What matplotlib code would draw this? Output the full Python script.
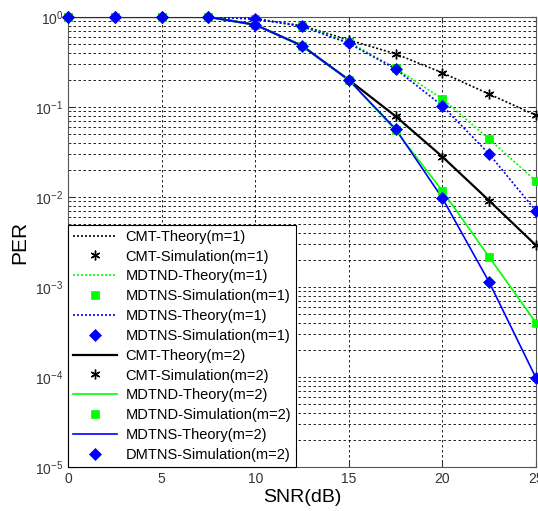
import matplotlib
matplotlib.use("Agg")
import matplotlib.pyplot as plt
from matplotlib.ticker import LogLocator, NullFormatter

plt.rcParams['font.family'] = ['Liberation Sans', 'DejaVu Sans']

# SNR points (dB)
snr = [0, 2.5, 5, 7.5, 10, 12.5, 15, 17.5, 20, 22.5, 25]

# m = 1
cmt_m1 = [1, 1, 1, 1, 0.96, 0.80, 0.555, 0.39, 0.24, 0.139, 0.081]
mdtnd_m1 = [1, 1, 1, 1, 0.95, 0.79, 0.53, 0.27, 0.123, 0.044, 0.015]
mdtns_m1 = [1, 1, 1, 1, 0.95, 0.79, 0.51, 0.265, 0.103, 0.030, 0.0070]

# m = 2
cmt_m2 = [1, 1, 1, 1, 0.82, 0.48, 0.20, 0.079, 0.028, 0.0091, 0.0029]
mdtnd_m2 = [1, 1, 1, 1, 0.82, 0.48, 0.20, 0.055, 0.0117, 0.00215, 0.0004]
mdtns_m2 = [1, 1, 1, 1, 0.82, 0.48, 0.20, 0.057, 0.0097, 0.00113, 0.0000975]

legend_labels = [
    'CMT-Theory(m=1)', 'CMT-Simulation(m=1)',
    'MDTND-Theory(m=1)', 'MDTNS-Simulation(m=1)',
    'MDTNS-Theory(m=1)', 'MDTNS-Simulation(m=1)',
    'CMT-Theory(m=2)', 'CMT-Simulation(m=2)',
    'MDTND-Theory(m=2)', 'MDTND-Simulation(m=2)',
    'MDTNS-Theory(m=2)', 'DMTNS-Simulation(m=2)',
]

green = '#00ff00'
blue = '#0000ff'
dot = (0, (1.2, 1.2))
star = (6, 2, 0)

fig = plt.figure(figsize=(5.38, 5.11), dpi=100)
ax = fig.add_axes([0.1264, 0.0861, 0.8699, 0.8806])

series = [
    (cmt_m1, 'k', dot, star, 7),
    (mdtnd_m1, green, dot, 's', 6),
    (mdtns_m1, blue, dot, 'D', 6),
    (cmt_m2, 'k', '-', star, 7),
    (mdtnd_m2, green, '-', 's', 6),
    (mdtns_m2, blue, '-', 'D', 6),
]

handles = []
for i, (vals, col, ls, mk, ms) in enumerate(series):
    lw = 1.6 if (ls == '-' and col == 'k') else 1.2
    h1, = ax.plot(snr, vals, color=col, linestyle=ls, linewidth=lw,
                  label=legend_labels[2 * i], zorder=3)
    h2, = ax.plot(snr, vals, color=col, linestyle='none', marker=mk,
                  markersize=ms, markeredgewidth=1.0 if mk == star else 0.5,
                  label=legend_labels[2 * i + 1], zorder=4, clip_on=False)
    handles += [h1, h2]

ax.set_yscale('log')
ax.set_xlim(0, 25)
ax.set_ylim(1e-5, 1)
ax.set_xticks([0, 5, 10, 15, 20, 25])
ax.yaxis.set_major_locator(LogLocator(base=10, numticks=10))
ax.yaxis.set_minor_locator(LogLocator(base=10, subs=range(2, 10), numticks=20))
ax.yaxis.set_minor_formatter(NullFormatter())

ax.grid(True, which='major', color='k', linestyle=(0, (3, 3)), linewidth=0.6)
ax.grid(True, which='minor', axis='y', color='k', linestyle=(0, (3, 3)), linewidth=0.6)
ax.tick_params(direction='in', which='both', top=True, right=True, labelsize=10,
               colors='#333333')
ax.tick_params(which='major', length=4)
ax.tick_params(which='minor', length=2)
for s in ax.spines.values():
    s.set_color('#555555')

ax.set_xlabel('SNR(dB)', fontsize=14, labelpad=2)
ax.set_ylabel('PER', fontsize=15, labelpad=4)

leg = ax.legend(handles=handles, loc='lower left', fontsize=10.5, handlelength=3.0,
                borderaxespad=0, labelspacing=0.4, handletextpad=0.6,
                fancybox=False, framealpha=1, edgecolor='k', borderpad=0.35)
leg.get_frame().set_linewidth(0.8)
leg.set_zorder(5)

fig.savefig('out.png', dpi=100)
